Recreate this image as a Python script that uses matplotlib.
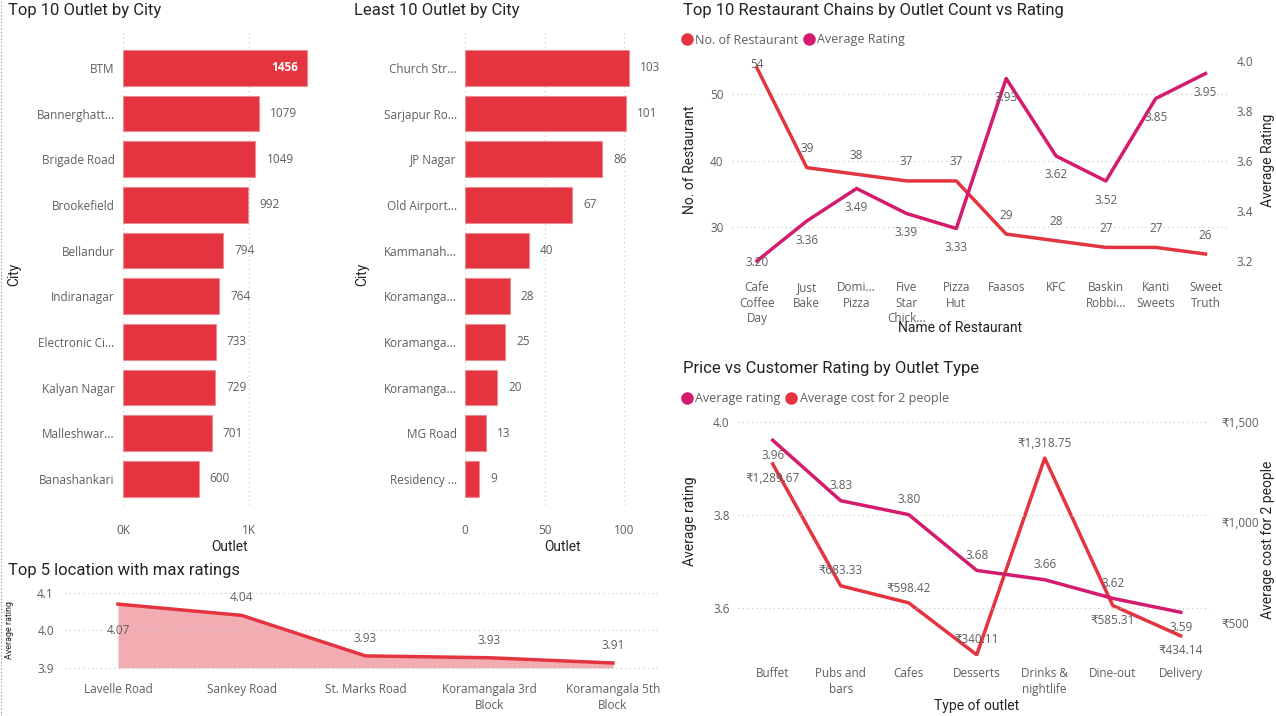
import matplotlib
matplotlib.use("Agg")
import matplotlib.pyplot as plt
from matplotlib.lines import Line2D
import numpy as np

plt.rcParams['font.family'] = ['Open Sans', 'DejaVu Sans']

# ---- data ----
top_cities = ["BTM", "Bannerghatt...", "Brigade Road", "Brookefield", "Bellandur",
              "Indiranagar", "Electronic Ci...", "Kalyan Nagar", "Malleshwar...", "Banashankari"]
top_outlets = [1456, 1079, 1049, 992, 794, 764, 733, 729, 701, 600]

least_cities = ["Church Str...", "Sarjapur Ro...", "JP Nagar", "Old Airport...", "Kammanah...",
                "Koramanga...", "Koramanga...", "Koramanga...", "MG Road", "Residency ..."]
least_outlets = [103, 101, 86, 67, 40, 28, 25, 20, 13, 9]

chains = ["Cafe\nCoffee\nDay", "Just\nBake", "Domi...\nPizza", "Five\nStar\nChick...", "Pizza\nHut",
          "Faasos", "KFC", "Baskin\nRobbi...", "Kanti\nSweets", "Sweet\nTruth"]
chain_count = [54, 39, 38, 37, 37, 29, 28, 27, 27, 26]
chain_rating = [3.20, 3.36, 3.49, 3.39, 3.33, 3.93, 3.62, 3.52, 3.85, 3.95]

outlet_types = ["Buffet", "Pubs and\nbars", "Cafes", "Desserts", "Drinks &\nnightlife", "Dine-out", "Delivery"]
type_rating = [3.96, 3.83, 3.80, 3.68, 3.66, 3.62, 3.59]
type_cost = [1289.67, 683.33, 598.42, 340.11, 1318.75, 585.31, 434.14]

top_locations = ["Lavelle Road", "Sankey Road", "St. Marks Road", "Koramangala 3rd\nBlock", "Koramangala 5th\nBlock"]
location_rating = [4.07, 4.04, 3.932, 3.927, 3.913]

# ---- style ----
RED = "#E3343F"
MAG = "#D41B6E"
PINK = "#F2ADB3"
GRAY = "#605E5C"
DARK = "#252423"
GRID = "#C8C6C4"
HEAD = ["Roboto", "DejaVu Sans"]

W, H = 1276, 716
fig = plt.figure(figsize=(W / 100, H / 100), dpi=100)


def px_axes(l, t, r, b):
    return fig.add_axes([l / W, 1 - b / H, (r - l) / W, (b - t) / H])


def ftext(x, y, s, **kw):
    return fig.text(x / W, 1 - y / H, s, **kw)


def axtitle(x, y, s, rot=0, size=10):
    ftext(x, y, s, rotation=rot, ha="center", va="center", fontsize=size, color=DARK, family=HEAD)


def clean(ax):
    for s in ax.spines.values():
        s.set_visible(False)
    ax.tick_params(length=0, colors=GRAY, labelsize=8.5)


def title(x, y, s):
    ftext(x, y, s, fontsize=12, color=DARK, va="center", ha="left", family=HEAD)


def hbar(ax, names, vals, xmax, ticks, ticklabels, inside_first):
    y = np.arange(len(names))
    ax.barh(y, vals, height=0.78, color=RED, edgecolor="#F08A92", linewidth=0.8)
    ax.set_ylim(9.57, -0.83)
    ax.set_xlim(0, xmax)
    ax.set_yticks(y)
    ax.set_yticklabels(names)
    ax.set_xticks(ticks)
    ax.set_xticklabels(ticklabels)
    ax.tick_params(axis="x", pad=14)
    ax.tick_params(axis="y", pad=6)
    ax.grid(axis="x", linestyle=(0, (1, 3)), color=GRID, linewidth=0.8)
    ax.set_axisbelow(True)
    clean(ax)
    for i, v in enumerate(vals):
        if i == 0 and inside_first:
            ax.annotate(str(v), (v, i), xytext=(-6, 0), textcoords="offset points",
                        ha="right", va="center", color="white", fontsize=8.5, fontweight="bold")
        else:
            ax.annotate(str(v), (v, i), xytext=(8, 0), textcoords="offset points",
                        ha="left", va="center", color=GRAY, fontsize=8.5)


def legend(handles, labels, x, y):
    fig.legend(handles, labels, loc="center left", bbox_to_anchor=(x / W, 1 - y / H), ncol=2,
               frameon=False, fontsize=9, handletextpad=0.15, handlelength=1.0,
               columnspacing=0.35, labelcolor=GRAY, borderaxespad=0, borderpad=0)


# panel 1
ax1 = px_axes(123, 30, 325, 505)
hbar(ax1, top_cities, top_outlets, 1600, [0, 1000], ["0K", "1K"], True)
title(8, 10, "Top 10 Outlet by City")
axtitle(14, 274, "City", rot=90)
axtitle(230, 547, "Outlet")

# panel 2
ax2 = px_axes(465, 30, 650, 505)
hbar(ax2, least_cities, least_outlets, 116, [0, 50, 100], ["0", "50", "100"], False)
title(354, 10, "Least 10 Outlet by City")
axtitle(362, 274, "City", rot=90)
axtitle(563, 547, "Outlet")

# panel 3
ax3 = px_axes(732, 55, 1228, 270)
ax3b = ax3.twinx()
x3 = np.arange(len(chains))
ax3.plot(x3, chain_count, color=RED, linewidth=2.5)
ax3b.plot(x3, chain_rating, color=MAG, linewidth=2.5)
ax3.set_xlim(-0.5, 9.45)
ax3.set_ylim(23.6, 55.94)
ax3b.set_ylim(3.164, 4.024)
ax3.set_yticks([30, 40, 50])
ax3b.set_yticks([3.2, 3.4, 3.6, 3.8, 4.0])
ax3b.set_yticklabels(["3.2", "3.4", "3.6", "3.8", "4.0"])
ax3.set_xticks(x3)
ax3.set_xticklabels(chains, linespacing=1.25, va="top")
ax3.grid(axis="y", linestyle=(0, (1, 3)), color=GRID, linewidth=0.8)
clean(ax3)
clean(ax3b)
ax3.tick_params(axis="y", pad=6)
ax3b.tick_params(axis="y", pad=6)
ax3.tick_params(axis="x", pad=8)
for i, v in enumerate(chain_count):
    off = 9 if v < 52 else -2
    ax3.annotate(str(v), (i, v), xytext=(0, off), textcoords="offset points",
                 ha="center", va="bottom", color=GRAY, fontsize=8.5)
for i, v in enumerate(chain_rating):
    low = v < 3.25
    ax3b.annotate(f"{v:.2f}", (i, v), xytext=(0, -1 if low else -9), textcoords="offset points",
                  ha="center", va="center" if low else "top", color=GRAY, fontsize=8.5)
title(683, 10, "Top 10 Restaurant Chains by Outlet Count vs Rating")
h3 = [Line2D([], [], marker="o", linestyle="none", color=RED, markersize=8),
      Line2D([], [], marker="o", linestyle="none", color=MAG, markersize=8)]
legend(h3, ["No. of Restaurant", "Average Rating"], 681, 40)
axtitle(690, 160, "No. of Restaurant", rot=90)
axtitle(1268, 160, "Average Rating", rot=90)
axtitle(960, 328, "Name of Restaurant")

# panel 4
ax4 = px_axes(738, 410, 1210, 656)
ax4b = ax4.twinx()
x4 = np.arange(len(outlet_types))
ax4.plot(x4, type_rating, color=MAG, linewidth=2.5, zorder=3)
ax4b.plot(x4, type_cost, color=RED, linewidth=2.5)
ax4.set_zorder(ax4b.get_zorder() + 1)
ax4.patch.set_visible(False)
ax4.set_xlim(-0.51, 6.43)
ax4.set_ylim(3.496, 4.025)
ax4b.set_ylim(334, 1558)
ax4.set_yticks([3.6, 3.8, 4.0])
ax4b.set_yticks([500, 1000, 1500])
ax4b.set_yticklabels(["₹500", "₹1,000", "₹1,500"])
ax4.set_xticks(x4)
ax4.set_xticklabels(outlet_types, linespacing=1.25, va="top")
ax4.grid(axis="y", linestyle=(0, (1, 3)), color=GRID, linewidth=0.8)
clean(ax4)
clean(ax4b)
ax4.tick_params(axis="y", pad=6)
ax4b.tick_params(axis="y", pad=8)
ax4.tick_params(axis="x", pad=8)
rating_above = [False, True, True, True, True, True, False]
cost_above = [False, True, True, True, True, False, False]
for i, v in enumerate(type_rating):
    ax4.annotate(f"{v:.2f}", (i, v), xytext=(0, 6 if rating_above[i] else -6), textcoords="offset points",
                 ha="center", va="bottom" if rating_above[i] else "top", color=GRAY, fontsize=8.5)
for i, v in enumerate(type_cost):
    ax4b.annotate(f"₹{v:,.2f}", (i, v), xytext=(0, 6 if cost_above[i] else -6), textcoords="offset points",
                  ha="center", va="bottom" if cost_above[i] else "top", color=GRAY, fontsize=8.5)
title(683, 369, "Price vs Customer Rating by Outlet Type")
h4 = [Line2D([], [], marker="o", linestyle="none", color=MAG, markersize=8),
      Line2D([], [], marker="o", linestyle="none", color=RED, markersize=8)]
legend(h4, ["Average rating", "Average cost for 2 people"], 681, 399)
axtitle(690, 521, "Average rating", rot=90)
axtitle(1268, 540, "Average cost for 2 people", rot=90)
axtitle(977, 706, "Type of outlet")

# panel 5
ax5 = px_axes(65, 585, 660, 672)
x5 = np.arange(len(top_locations))
ax5.fill_between(x5, location_rating, 3.9, color=PINK, linewidth=0)
ax5.plot(x5, location_rating, color=RED, linewidth=2.5)
ax5.set_xlim(-0.428, 4.38)
ax5.set_ylim(3.889, 4.121)
ax5.set_yticks([3.9, 4.0, 4.1])
ax5.set_xticks(x5)
ax5.set_xticklabels(top_locations, linespacing=1.25, va="top")
ax5.grid(axis="y", linestyle=(0, (1, 3)), color=GRID, linewidth=0.8)
clean(ax5)
ax5.tick_params(axis="y", pad=8)
ax5.tick_params(axis="x", pad=8)
for i, v in enumerate(location_rating):
    above = i > 0
    ax5.annotate(f"{v:.2f}", (i, v), xytext=(0, 8 if above else -14), textcoords="offset points",
                 ha="center", va="bottom" if above else "top", color=GRAY, fontsize=8.5)
title(8, 570, "Top 5 location with max ratings")
axtitle(10, 630, "Average rating", rot=90, size=6.5)

# dotted left border
fig.add_artist(Line2D([1 / W, 1 / W], [0, 1], color="#888888", linestyle=(0, (1, 2)), linewidth=0.8))

fig.savefig("out.png", dpi=100)
